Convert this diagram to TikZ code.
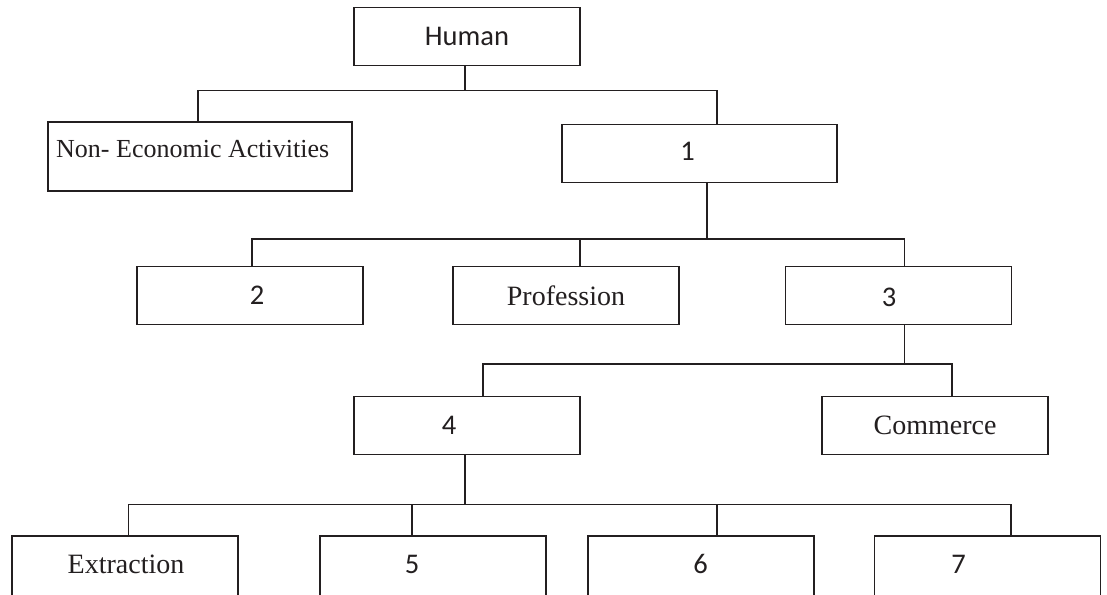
\documentclass[tikz,border=0pt]{standalone}
\usepackage{fontspec}
\setmainfont{Liberation Serif}
\newfontfamily\carlito{Carlito}
\definecolor{ink}{RGB}{35,31,32}
\begin{document}
\begin{tikzpicture}[x=1pt,y=-1pt,
  box/.style={draw=ink,line width=1.1pt,minimum width=226pt,minimum height=58pt,inner sep=0pt,text=ink},
  lowbox/.style={box,minimum height=74pt},
  wordbox/.style={box,font=\fontsize{28}{32}\selectfont},
  wordtext/.style={inner sep=0pt,text=ink,font=\fontsize{28}{32}\selectfont},
  numtext/.style={inner sep=0pt,text=ink,font=\carlito\fontsize{28.5}{32}\selectfont},
  link/.style={draw=ink,line width=1.1pt}]
\useasboundingbox (0,0) rectangle (1107,594);
\fill[white] (0,0) rectangle (1107,594);

% boxes and their texts
\node[box,font=\carlito\fontsize{28.5}{32}\selectfont] (human) at (467,36.2) {Human};
\node[box,line width=2pt,minimum width=304pt,minimum height=69pt] (ne) at (200,156.2) {};
\node[anchor=west,inner sep=0pt,text=ink,font=\fontsize{26}{30}\selectfont] (netext) at (56,149) {Non- Economic Activities};
\node[box,minimum width=275pt] (b1) at (699.5,153.2) {};
\node[numtext] (t1) at (687.5,151.7) {1};
\node[box] (b2) at (250,295.6) {};
\node[numtext] (t2) at (257,295) {2};
\node[wordbox] (prof) at (566,295.6) {Profession};
\node[box] (b3) at (898.5,295.6) {};
\node[numtext] (t3) at (889,297) {3};
\node[box] (b4) at (467,425.2) {};
\node[numtext] (t4) at (449,425) {4};
\node[wordbox] (comm) at (935,425.2) {Commerce};
% bottom row runs past the lower edge of the page
\node[lowbox] (extr) at (125,573) {};
\node[wordtext] (t0) at (126,564) {Extraction};
\node[lowbox] (b5) at (433,573) {};
\node[numtext] (t5) at (412,564) {5};
\node[lowbox] (b6) at (701,573) {};
\node[numtext] (t6) at (700.5,564) {6};
\node[lowbox] (b7) at (987.5,573) {};
\node[numtext] (t7) at (958.5,564) {7};

% heights of the horizontal bus lines
\coordinate (bus1) at (0,90.5);
\coordinate (bus2) at (0,239);
\coordinate (bus3) at (0,364);
\coordinate (bus4) at (0,504.7);

% attachment points
\coordinate (hs) at ([xshift=-2pt]human.south);
\coordinate (nen) at ([xshift=-2pt]ne.north);
\coordinate (b1n) at ([xshift=17.5pt]b1.north);
\coordinate (b1s) at ([xshift=7.5pt]b1.south);
\coordinate (b2n) at ([xshift=2pt]b2.north);
\coordinate (profn) at ([xshift=14pt]prof.north);
\coordinate (b3n) at ([xshift=6pt]b3.north);
\coordinate (b3s) at ([xshift=6pt]b3.south);
\coordinate (b4n) at ([xshift=16pt]b4.north);
\coordinate (commn) at ([xshift=17pt]comm.north);
\coordinate (b4s) at ([xshift=-2pt]b4.south);
\coordinate (extrn) at ([xshift=3.5pt]extr.north);
\coordinate (b5n) at ([xshift=-21pt]b5.north);
\coordinate (b6n) at ([xshift=16pt]b6.north);
\coordinate (b7n) at ([xshift=23.5pt]b7.north);

% level 1
\draw[link] (hs) -- (hs |- bus1);
\draw[link] (nen) |- (b1n |- bus1) -- (b1n);
% level 2
\draw[link] (b1s) -- (b1s |- bus2);
\draw[link] (b2n) |- (b3n |- bus2) -- (b3n);
\draw[link] (profn) -- (profn |- bus2);
% level 3
\draw[link] (b3s) -- (b3s |- bus3);
\draw[link] (b4n) |- (commn |- bus3) -- (commn);
% level 4
\draw[link] (b4s) -- (b4s |- bus4);
\draw[link] (extrn) |- (b7n |- bus4) -- (b7n);
\draw[link] (b5n) -- (b5n |- bus4);
\draw[link] (b6n) -- (b6n |- bus4);
\end{tikzpicture}
\end{document}
